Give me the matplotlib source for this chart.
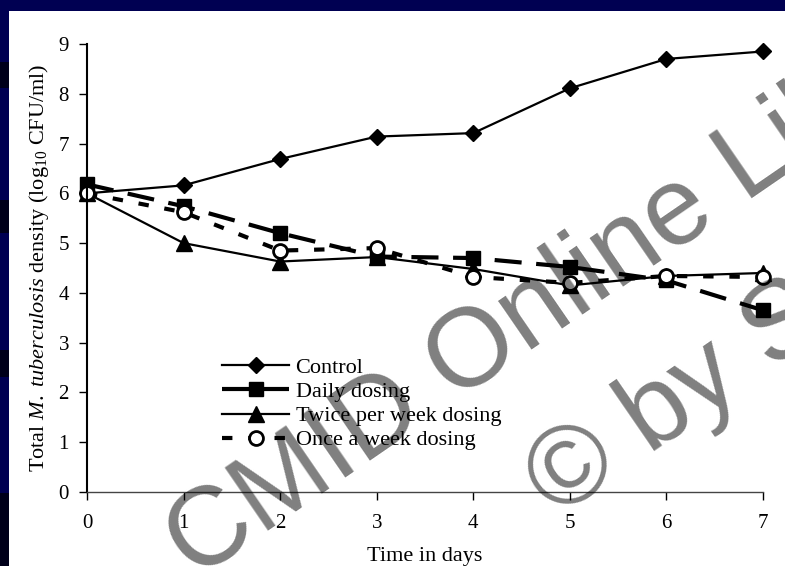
import numpy as np
import matplotlib
matplotlib.use("Agg")
import matplotlib.pyplot as plt
from matplotlib.patches import Rectangle

# data
days = [0, 1, 2, 3, 4, 5, 6, 7]
control = [6.0, 6.16, 6.69, 7.14, 7.21, 8.11, 8.70, 8.85]
daily = [6.18, 5.74, 5.20, 4.73, 4.70, 4.52, 4.25, 3.65]
twice = [6.0, 5.0, 4.63, 4.72, 4.48, 4.15, 4.34, 4.40]
once = [6.0, 5.62, 4.85, 4.90, 4.32, 4.20, 4.34, 4.32]
labels = ["Control", "Daily dosing", "Twice per week dosing", "Once a week dosing"]

plt.rcParams['font.family'] = ['Liberation Serif', 'DejaVu Serif']
plt.rcParams['mathtext.fontset'] = 'custom'
plt.rcParams['mathtext.rm'] = 'Liberation Serif'
plt.rcParams['mathtext.it'] = 'Liberation Serif:italic'

W, H = 785, 566
fig = plt.figure(figsize=(W / 100, H / 100), dpi=100, facecolor='#000052')

# white slide panel and the dark blocks on the left strip
fig.add_artist(Rectangle((9 / W, 0), 1, 1 - 11 / H, transform=fig.transFigure,
                         facecolor='white', edgecolor='none', zorder=0))
for y0, y1 in [(62, 88), (200, 233), (350, 377), (493, 566)]:
    fig.add_artist(Rectangle((0, 1 - y1 / H), 9 / W, (y1 - y0) / H, transform=fig.transFigure,
                             facecolor='#00001a', edgecolor='none', zorder=0))

ax = fig.add_axes([87 / W, 1 - 492 / H, (763 - 87) / W, (492 - 44) / H])
ax.set_facecolor('none')

ax.plot(days, control, color='black', lw=1.6, marker='D', markersize=8, clip_on=False, label=labels[0])
ax.plot(days, daily, color='black', lw=3, dashes=(6.5, 3.5), marker='s', markersize=10.5,
        clip_on=False, label=labels[1])
ax.plot(days, twice, color='black', lw=1.6, marker='^', markersize=11, clip_on=False, label=labels[2])
ax.plot(days, once, color='black', lw=3, dashes=(2.5, 3.8), marker='o', markersize=10,
        markerfacecolor='white', markeredgewidth=2, clip_on=False, label=labels[3])

ax.set_xlim(0, 7)
ax.set_ylim(0, 9)
ax.set_xticks(days)
ax.set_yticks(range(10))
ax.spines['top'].set_visible(False)
ax.spines['right'].set_visible(False)
ax.spines['left'].set_linewidth(1.5)
ax.spines['bottom'].set_linewidth(1)
ax.spines['bottom'].set_color('#444444')
ax.tick_params(axis='both', direction='out', length=6, width=1, labelsize=15)
ax.tick_params(axis='x', pad=10)
ax.tick_params(axis='y', pad=7)

ax.set_xlabel('Time in days', fontsize=16, labelpad=10)
ax.set_ylabel(r'Total $\mathit{M.\ tuberculosis}$ density (log$_{10}$ CFU/ml)', fontsize=16, labelpad=5)

ax.legend(loc='upper left', bbox_to_anchor=(0.2, 0.30), frameon=False, fontsize=16,
          handlelength=3.0, handletextpad=0.3, labelspacing=0.16, borderpad=0, borderaxespad=0)

# watermark
wm = dict(color='black', alpha=0.5, fontsize=80, family='Liberation Sans', rotation=34.5,
          rotation_mode='anchor', ha='left', va='baseline', zorder=10)
fig.text(195 / W, 1 - 581 / H, 'CMID Online Library', **wm)
fig.text(556 / W, 1 - 519 / H, '\u00a9 by S. Karger AG', **wm)

fig.savefig('out.png', dpi=100, facecolor=fig.get_facecolor())
